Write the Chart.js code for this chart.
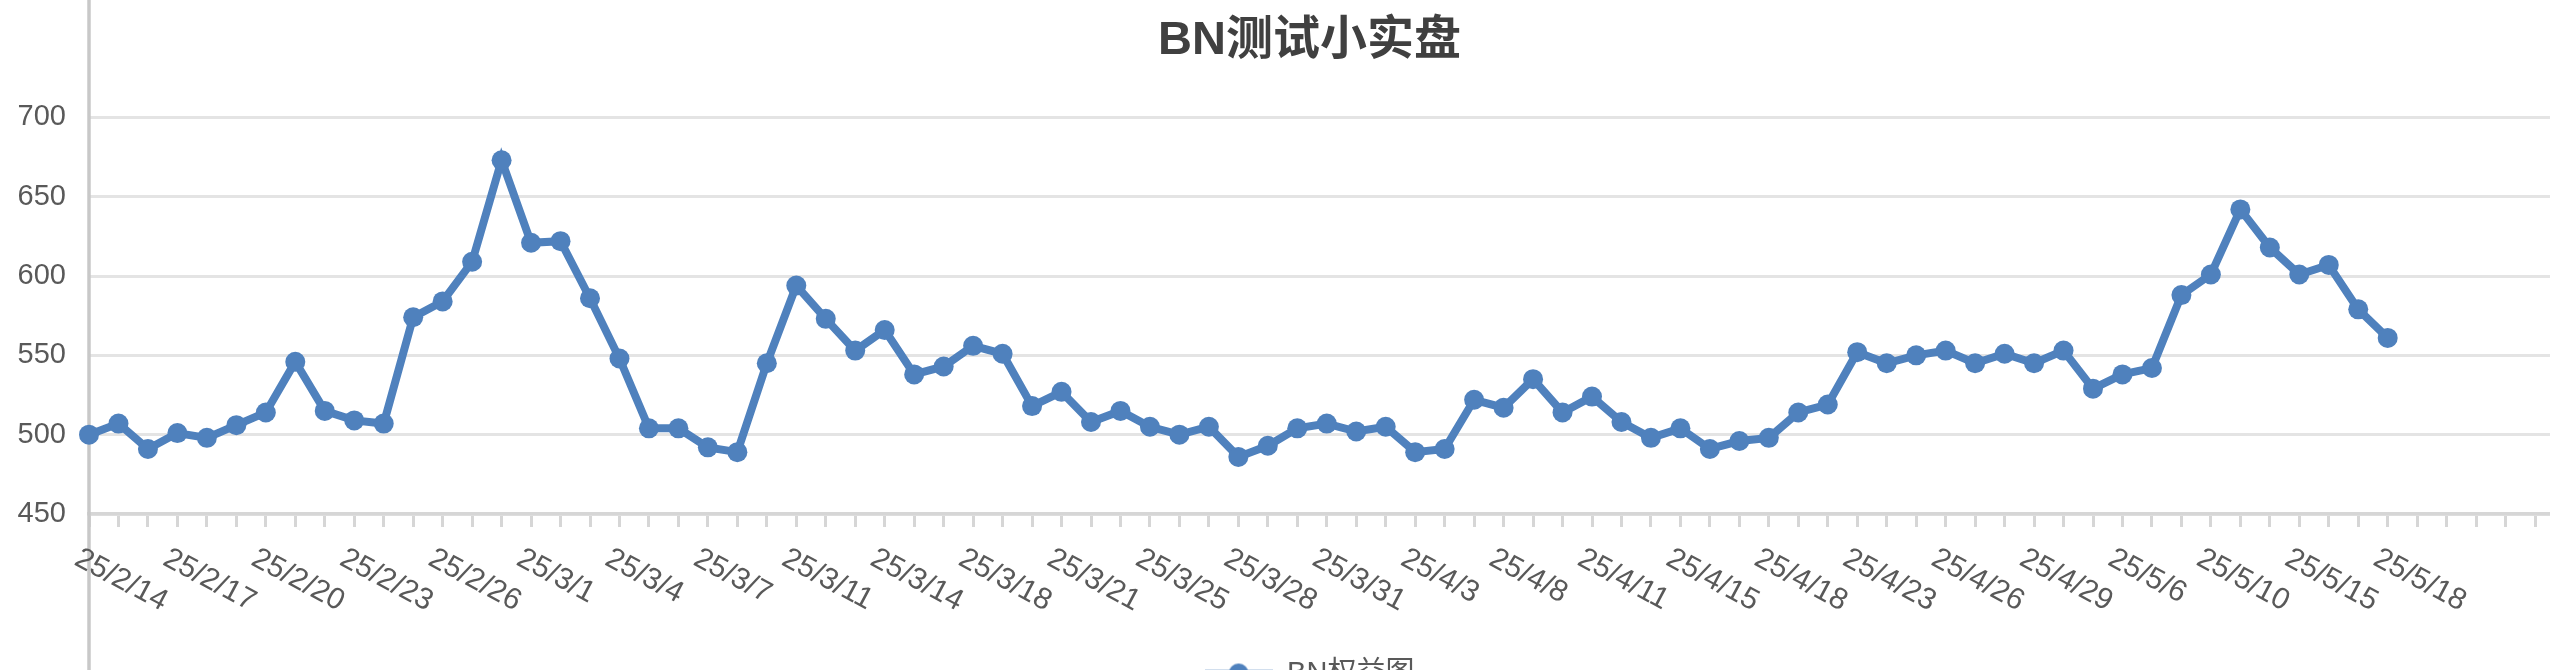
<!DOCTYPE html>
<html>
<head>
<meta charset="utf-8">
<script src="https://cdn.jsdelivr.net/npm/chart.js@4/dist/chart.umd.min.js"></script>
<style>
  html, body { margin: 0; padding: 0; background: #fff; overflow: hidden; }
  #wrap { position: relative; width: 2604px; height: 700px; }
</style>
</head>
<body>
<div id="wrap"><canvas id="equityChart"></canvas></div>
<script>
const dates = [
  "25/2/14", "25/2/15", "25/2/16", "25/2/17", "25/2/18", "25/2/19", "25/2/20", "25/2/21",
  "25/2/22", "25/2/23", "25/2/24", "25/2/25", "25/2/26", "25/2/27", "25/2/28", "25/3/1",
  "25/3/2", "25/3/3", "25/3/4", "25/3/5", "25/3/6", "25/3/7", "25/3/8", "25/3/10",
  "25/3/11", "25/3/12", "25/3/13", "25/3/14", "25/3/15", "25/3/17", "25/3/18", "25/3/19",
  "25/3/20", "25/3/21", "25/3/23", "25/3/24", "25/3/25", "25/3/26", "25/3/27", "25/3/28",
  "25/3/29", "25/3/30", "25/3/31", "25/4/1", "25/4/2", "25/4/3", "25/4/5", "25/4/7",
  "25/4/8", "25/4/9", "25/4/10", "25/4/11", "25/4/13", "25/4/14", "25/4/15", "25/4/16",
  "25/4/17", "25/4/18", "25/4/20", "25/4/22", "25/4/23", "25/4/24", "25/4/25", "25/4/26",
  "25/4/27", "25/4/28", "25/4/29", "25/5/1", "25/5/4", "25/5/6", "25/5/8", "25/5/9",
  "25/5/10", "25/5/12", "25/5/14", "25/5/15", "25/5/16", "25/5/17", "25/5/18"
];
const equity = [
  500, 507, 491, 501, 498, 506, 514, 546, 515, 509, 507, 574, 584, 609, 673, 621,
  622, 586, 548, 504, 504, 492, 489, 545, 594, 573, 553, 566, 538, 543, 556, 551,
  518, 527, 508, 515, 505, 500, 505, 486, 493, 504, 507, 502, 505, 489, 491, 522,
  517, 535, 514, 524, 508, 498, 504, 491, 496, 498, 514, 519, 552, 545, 550, 553,
  545, 551, 545, 553, 529, 538, 542, 588, 601, 642, 618, 601, 607, 579, 561
];
const yTicks = [450, 500, 550, 600, 650, 700];
const emptySlots = 7;   // empty categories after the last date
const labelEvery = 3;

const categories = dates.concat(new Array(emptySlots).fill(""));

const blue = "#4f81bd";
const textGray = "#595959";
const fontFamily = '"Liberation Sans", Arial, "Noto Sans CJK SC", sans-serif';

// legend marker: short line with a dot
const marker = document.createElement("canvas");
marker.width = 68;
marker.height = 22;
(function () {
  const c = marker.getContext("2d");
  c.strokeStyle = blue;
  c.lineWidth = 7;
  c.beginPath();
  c.moveTo(0, 11);
  c.lineTo(68, 11);
  c.stroke();
  c.fillStyle = blue;
  c.beginPath();
  c.arc(34, 11, 10, 0, Math.PI * 2);
  c.fill();
})();

// vertical axis line running the full height of the canvas
const axisLine = {
  id: "axisLine",
  beforeDatasetsDraw(chart) {
    const ctx = chart.ctx;
    const x = chart.chartArea.left;
    ctx.save();
    ctx.strokeStyle = "#c8c8c8";
    ctx.lineWidth = 3.5;
    ctx.beginPath();
    ctx.moveTo(x, 0);
    ctx.lineTo(x, chart.height);
    ctx.stroke();
    ctx.restore();
  },
};

// slanted date labels, reading downwards to the right
const slantLabels = {
  id: "slantLabels",
  afterDraw(chart) {
    const ctx = chart.ctx;
    const xScale = chart.scales.x;
    const angle = (28 * Math.PI) / 180;
    ctx.save();
    ctx.font = "30px " + fontFamily;
    ctx.fillStyle = textGray;
    ctx.textAlign = "left";
    ctx.textBaseline = "alphabetic";
    categories.forEach((label, i) => {
      if (!label || i % labelEvery !== 0) return;
      const x = xScale.getPixelForValue(i);
      ctx.save();
      ctx.translate(x - 16, xScale.top + 50);
      ctx.rotate(angle);
      ctx.fillText(label, 0, 0);
      ctx.restore();
    });
    ctx.restore();
  },
};

new Chart(document.getElementById("equityChart"), {
  type: "line",
  data: {
    labels: categories,
    datasets: [
      {
        label: "BN权益图",
        data: equity,
        borderColor: blue,
        backgroundColor: blue,
        borderWidth: 8,
        pointRadius: 10,
        pointBackgroundColor: blue,
        pointBorderColor: blue,
        pointBorderWidth: 0,
        tension: 0,
        clip: false,
      },
    ],
  },
  options: {
    responsive: true,
    maintainAspectRatio: false,
    animation: false,
    layout: {
      padding: { left: 17, right: 2, top: 0, bottom: 2 },
    },
    plugins: {
      title: {
        display: true,
        text: "BN测试小实盘",
        color: "#404040",
        font: { family: fontFamily, size: 47, weight: "bold" },
        padding: { top: 13, bottom: 48 },
      },
      legend: {
        display: true,
        position: "bottom",
        labels: {
          usePointStyle: true,
          pointStyle: marker,
          pointStyleWidth: 68,
          color: textGray,
          font: { family: fontFamily, size: 29 },
          padding: 10,
        },
      },
      tooltip: { enabled: false },
    },
    scales: {
      x: {
        type: "category",
        offset: false,
        afterFit: function (scale) {
          scale.height = 135;
        },
        ticks: { display: false, autoSkip: false },
        grid: {
          drawOnChartArea: false,
          drawTicks: true,
          tickLength: 13,
          color: "#d6d6d6",
          lineWidth: 3,
        },
        border: { display: true, color: "#d6d6d6", width: 3.5 },
      },
      y: {
        min: yTicks[0],
        max: yTicks[yTicks.length - 1],
        afterFit: function (scale) {
          scale.width = 72;
        },
        ticks: {
          stepSize: 50,
          padding: 23,
          color: textGray,
          font: { family: fontFamily, size: 29 },
        },
        grid: {
          color: "#e4e4e4",
          lineWidth: 3,
          drawTicks: false,
        },
        border: { display: false },
      },
    },
  },
  plugins: [axisLine, slantLabels],
});
</script>
</body>
</html>
